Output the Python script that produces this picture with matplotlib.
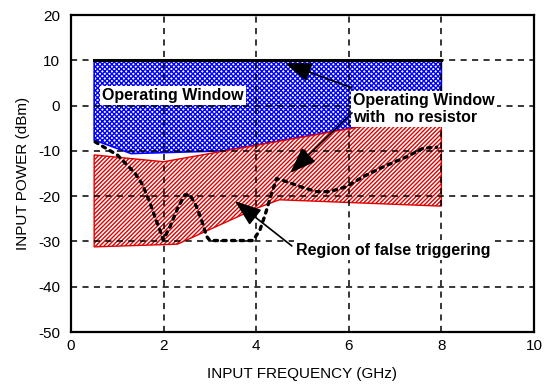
import matplotlib
matplotlib.use("Agg")
import matplotlib.pyplot as plt

plt.rcParams['font.family'] = ['Liberation Sans', 'DejaVu Sans']
plt.rcParams['axes.unicode_minus'] = False
plt.rcParams['hatch.linewidth'] = 1.0

# Operating window (with resistor): flat top, lower edge follows the false-trigger region
win_top_x = [0.5, 8.0]
win_top_y = [10.0, 10.0]
win_lo_x = [0.5, 1.3, 3.3, 8.0]
win_lo_y = [-7.6, -10.6, -10.0, -1.5]

# Region of false triggering
false_top_x = [0.5, 2.0, 8.0]
false_top_y = [-10.9, -12.4, -1.5]
false_bot_x = [0.5, 2.3, 4.0, 4.5, 8.0]
false_bot_y = [-31.2, -30.6, -22.7, -20.8, -22.2]

# Lower limit of the operating window without the resistor
nores_x = [0.52, 0.7, 1.0, 1.17, 1.38, 1.53, 1.67, 1.81, 1.92, 1.99, 2.14, 2.32,
           2.46, 2.57, 2.71, 2.82, 2.93, 3.0, 3.93, 4.08, 4.19, 4.3, 4.44, 4.66,
           4.95, 5.3, 5.59, 5.95, 6.31, 6.75, 7.25, 7.61, 7.9]
nores_y = [-8.0, -9.1, -10.9, -12.7, -14.9, -17.2, -20.5, -24.5, -27.5, -29.7, -26.7, -22.3,
           -19.7, -19.7, -22.3, -25.3, -28.9, -29.8, -29.8, -27.5, -24.2, -20.5, -16.1, -16.8,
           -17.9, -19.0, -19.0, -17.9, -15.7, -13.5, -11.3, -9.4, -9.2]

xticks = [0, 2, 4, 6, 8, 10]
yticks = [-50, -40, -30, -20, -10, 0, 10, 20]

fig = plt.figure(figsize=(5.47, 3.87), dpi=100)
ax = fig.add_axes([0.1298, 0.1421, 0.8464, 0.8191])

# blue window
ax.fill(win_top_x + win_lo_x[::-1], win_top_y + win_lo_y[::-1],
        facecolor='white', edgecolor='#0000ff', hatch='xxxxxxx', linewidth=1.2, zorder=1)
ax.plot(win_top_x, win_top_y, color='black', linewidth=2.2, zorder=3)

# red false-trigger region
ax.fill(false_top_x + false_bot_x[::-1], false_top_y + false_bot_y[::-1],
        facecolor='white', edgecolor='#e00000', hatch='////////', linewidth=1.0, zorder=1)

ax.plot(nores_x, nores_y, color='black', linewidth=2.4, linestyle=(0, (1.0, 1.6)),
        dash_capstyle='round', zorder=3)

ax.set_xlim(0, 10)
ax.set_ylim(-50, 20)
ax.set_xticks(xticks)
ax.set_yticks(yticks)
ax.tick_params(length=0, labelsize=11)
ax.tick_params(axis='x', pad=5)
ax.tick_params(axis='y', pad=8)
ax.set_axisbelow(False)
ax.grid(True, color='black', linestyle=(0, (4, 3.5)), linewidth=1.1)
for s in ax.spines.values():
    s.set_linewidth(1.6)

ax.set_xlabel('INPUT FREQUENCY (GHz)', fontsize=11, labelpad=10)
ax.set_ylabel('INPUT POWER (dBm)', fontsize=11, labelpad=6)

box = dict(facecolor='white', edgecolor='none', pad=1.5)
ax.text(0.67, 2.3, 'Operating Window', fontsize=11.5, fontweight='bold',
        ha='left', va='center', bbox=box, zorder=4)
ax.text(6.09, -0.7, 'Operating Window\nwith  no resistor', fontsize=11.5, fontweight='bold',
        ha='left', va='center', linespacing=1.15, bbox=box, zorder=4)
ax.text(4.87, -31.9, 'Region of false triggering', fontsize=11.5, fontweight='bold',
        ha='left', va='center', bbox=box, zorder=4)

arrow = dict(arrowstyle='-|>,head_length=1.1,head_width=0.4', color='black',
             linewidth=1.2, mutation_scale=15, shrinkA=0, shrinkB=0)
ax.annotate('', xy=(4.62, 9.4), xytext=(6.07, 3.9), arrowprops=arrow, zorder=5)
ax.annotate('', xy=(4.73, -14.9), xytext=(6.07, -1.6), arrowprops=arrow, zorder=5)
ax.annotate('', xy=(3.54, -21.1), xytext=(4.77, -31.0), arrowprops=arrow, zorder=5)

fig.savefig('out.png', dpi=100)
